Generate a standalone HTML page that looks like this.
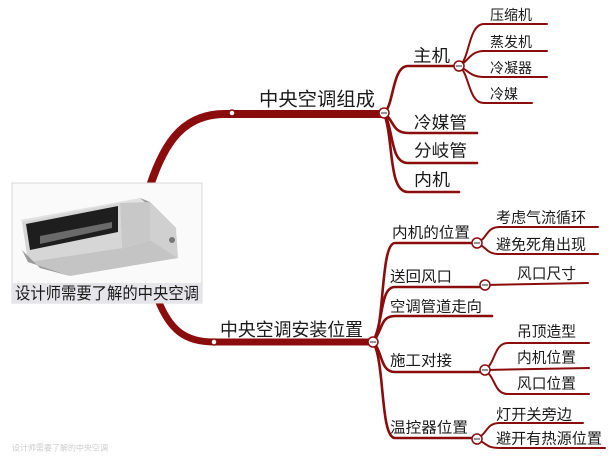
<!DOCTYPE html>
<html><head><meta charset="utf-8"><style>
html,body{margin:0;padding:0;background:#fff;}
svg{display:block;}
text{font-family:"Liberation Sans","Noto Sans CJK SC",sans-serif;fill:#1a1a1a;dominant-baseline:central;}
</style></head><body>
<svg width="616" height="464" viewBox="0 0 616 464" xmlns="http://www.w3.org/2000/svg">
<g fill="none" stroke="#8a0c0c" stroke-linecap="round">
  <path d="M150,186 C165,140 185,114 225,114 L384,114" stroke-width="8"/>
  <path d="M225,114 L384,114" stroke-width="4"/>
  <path d="M158,300 C170,330 185,342 214,342 L373,342" stroke-width="7"/>
  <path d="M214,342 L373,342" stroke-width="4"/>
  <g stroke-width="2.6">
    <path d="M384,113 C394,106 392,66 408,66 L459,66"/>
    <path d="M384,113 C394,120 392,133 408,133 L477,133"/>
    <path d="M384,113 C394,130 390,163 408,163 L477,163"/>
    <path d="M384,113 C394,140 388,192 408,192 L459,192"/>
  </g>
  <g stroke-width="2">
    <path d="M459,66 C470,60 468,24 484,24 L547,24"/>
    <path d="M459,66 C468,62 470,51 484,51 L547,51"/>
    <path d="M459,66 C468,70 470,77 484,77 L547,77"/>
    <path d="M459,66 C470,74 468,103 484,103 L532,103"/>
  </g>
  <g stroke-width="2.6">
    <path d="M373,342 C385,330 380,243 395,243 L477,243"/>
    <path d="M373,342 C384,320 380,287 395,287 L485,287"/>
    <path d="M373,342 C383,330 380,316 395,316 L492,316"/>
    <path d="M373,342 C383,352 380,372 395,372 L485,372"/>
    <path d="M373,342 C385,360 380,438 395,438 L477,438"/>
  </g>
  <g stroke-width="2">
    <path d="M477,243 C488,238 486,227 500,227 L598,227"/>
    <path d="M477,243 C488,248 486,254 500,254 L598,254"/>
    <path d="M485,285 L588,283"/>
    <path d="M485,370 C496,362 494,343 508,343 L589,343"/>
    <path d="M485,370 L589,368"/>
    <path d="M485,370 C496,378 494,394 508,394 L589,394"/>
    <path d="M477,439 C488,433 486,423 500,423 L583,423"/>
    <path d="M477,439 C488,444 486,448 500,448 L605,448"/>
  </g>
</g>
<g fill="#fff" stroke="#8a0c0c" stroke-width="1.5">
  <circle cx="232" cy="113" r="3"/>
  <circle cx="214" cy="342" r="3"/>
</g>
<g fill="#fff" stroke="#8a0c0c" stroke-width="1.5">
  <circle cx="384" cy="113" r="5"/><circle cx="459" cy="66" r="5"/>
  <circle cx="373" cy="342" r="5"/><circle cx="477" cy="243" r="5"/>
  <circle cx="485" cy="285" r="5"/><circle cx="485" cy="370" r="5"/>
  <circle cx="477" cy="439" r="5"/>
</g>
<g stroke="#555" stroke-width="1.2">
  <path d="M381,113h6M456,66h6M370,342h6M474,243h6M482,285h6M482,370h6M474,439h6"/>
</g>
<!-- image box -->
<rect x="12" y="183" width="190" height="120" fill="#fafafa" stroke="#d8d8d8"/>
<polygon points="20,220 140,198 150,202 30,226" fill="#e2e2e2"/>
<polygon points="140,198 150,202 176,228 168,222" fill="#9a9a9a"/>
<polygon points="22,222 120,203 122,248 28,262" fill="#d6d6d6"/>
<polygon points="26,224 118,206 118,232 30,250" fill="#1e1e1e"/>
<polygon points="40,236 112,222 112,228 40,244" fill="#6a6a6a"/>
<polygon points="120,203 150,202 150,240 122,248" fill="#c8c8c8"/>
<polygon points="150,202 176,228 178,258 150,240" fill="#d0d0d0"/>
<polygon points="28,262 122,248 150,240 178,258 70,276" fill="#c4c4c4"/>
<polygon points="22,250 28,262 70,276 40,268" fill="#999"/>
<circle cx="172" cy="240" r="3" fill="#777"/>
<rect x="12" y="283" width="190" height="20" fill="#e6e6ea"/>
<text x="107" y="294" font-size="16.5" text-anchor="middle" textLength="184" lengthAdjust="spacingAndGlyphs">设计师需要了解的中央空调</text>
<text x="259" y="100" font-size="19" textLength="116" lengthAdjust="spacingAndGlyphs">中央空调组成</text>
<text x="220" y="330" font-size="18" textLength="143" lengthAdjust="spacingAndGlyphs">中央空调安装位置</text>
<g font-size="17">
<text x="413" y="56" textLength="37" lengthAdjust="spacingAndGlyphs">主机</text>
<text x="414" y="123" textLength="53" lengthAdjust="spacingAndGlyphs">冷媒管</text>
<text x="414" y="151" textLength="53" lengthAdjust="spacingAndGlyphs">分岐管</text>
<text x="414" y="180" textLength="36" lengthAdjust="spacingAndGlyphs">内机</text>
</g>
<g font-size="14">
<text x="490" y="15">压缩机</text>
<text x="490" y="42">蒸发机</text>
<text x="490" y="68">冷凝器</text>
<text x="490" y="94">冷媒</text>
</g>
<g font-size="15">
<text x="392" y="233" textLength="78" lengthAdjust="spacingAndGlyphs">内机的位置</text>
<text x="390" y="277" textLength="62" lengthAdjust="spacingAndGlyphs">送回风口</text>
<text x="390" y="307" textLength="92" lengthAdjust="spacingAndGlyphs">空调管道走向</text>
<text x="390" y="361" textLength="62" lengthAdjust="spacingAndGlyphs">施工对接</text>
<text x="390" y="428" textLength="78" lengthAdjust="spacingAndGlyphs">温控器位置</text>
<text x="496" y="218" textLength="90" lengthAdjust="spacingAndGlyphs">考虑气流循环</text>
<text x="496" y="245" textLength="90" lengthAdjust="spacingAndGlyphs">避免死角出现</text>
<text x="517" y="274" textLength="59" lengthAdjust="spacingAndGlyphs">风口尺寸</text>
<text x="517" y="332" textLength="59" lengthAdjust="spacingAndGlyphs">吊顶造型</text>
<text x="517" y="358" textLength="59" lengthAdjust="spacingAndGlyphs">内机位置</text>
<text x="517" y="384" textLength="59" lengthAdjust="spacingAndGlyphs">风口位置</text>
<text x="496" y="415" textLength="76" lengthAdjust="spacingAndGlyphs">灯开关旁边</text>
<text x="496" y="439" textLength="106" lengthAdjust="spacingAndGlyphs">避开有热源位置</text>
</g>
<text x="12" y="448" font-size="8" style="fill:#ccc">设计师需要了解的中央空调</text>
</svg>
</body></html>
